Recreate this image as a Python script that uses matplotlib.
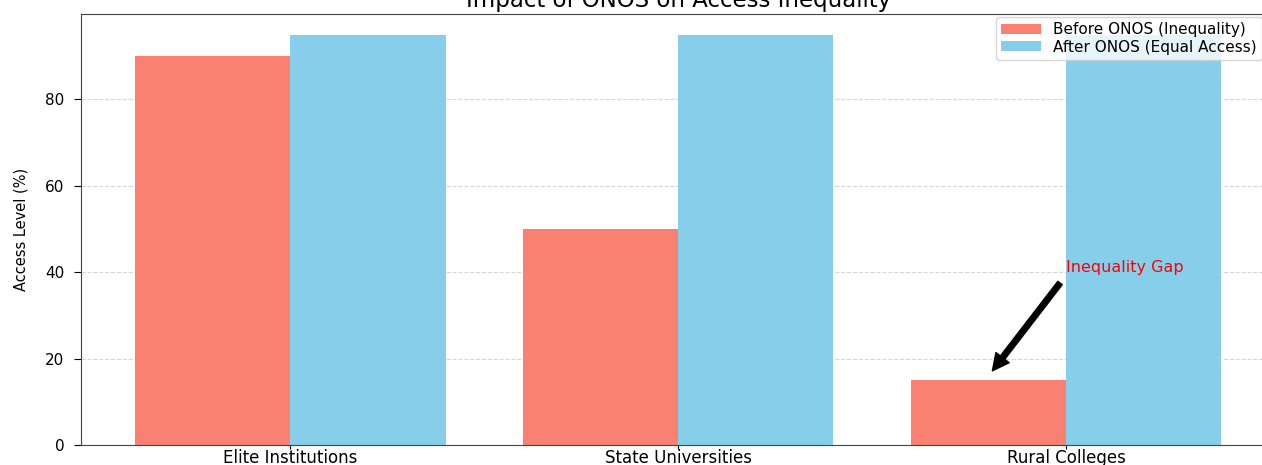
import numpy as np
import matplotlib
matplotlib.use("Agg")
import matplotlib.pyplot as plt

# datos del gráfico
categories = ["Elite Institutions", "State Universities", "Rural Colleges"]
before_onos = [90, 50, 15]
after_onos = [95, 95, 95]
yticks = [0, 20, 40, 60, 80]

W, H = 1262, 465
fig = plt.figure(figsize=(W / 100, H / 100), dpi=100)
# el eje se sale un poco por la derecha, como en la captura original
ax = fig.add_axes([81 / W, 20 / H, (1275.5 - 81) / W, (445 - 14) / H])

x = np.arange(len(categories))
width = 0.4
ax.bar(x - width / 2, before_onos, width, color="salmon", label="Before ONOS (Inequality)")
ax.bar(x + width / 2, after_onos, width, color="skyblue", label="After ONOS (Equal Access)")

ax.set_axisbelow(True)
ax.yaxis.grid(True, linestyle="--", color="#cccccc", alpha=0.8)
ax.set_yticks(yticks)
ax.tick_params(axis="y", labelsize=11, length=5, pad=7)
ax.tick_params(axis="x", length=3, pad=0)
ax.set_xticks(x)
ax.set_xticklabels(categories, fontsize=12)
ax.set_ylabel("Access Level (%)", fontsize=10.5)
ax.yaxis.set_label_coords(-0.044, 0.5)
ax.set_title("Impact of ONOS on Access Inequality", fontsize=16.5, pad=5)
for s in ax.spines.values():
    s.set_color("#444444")

# anotación de la brecha
ax.annotate("Inequality Gap", xy=(1.8, 16), xytext=(2.0, 40),
            color="red", fontsize=11.5,
            arrowprops=dict(facecolor="black", shrink=0.05))

ax.legend(loc="upper right", bbox_to_anchor=(1262 / W, 1 - 17 / H),
          bbox_transform=fig.transFigure, fontsize=11, labelspacing=0.15,
          handlelength=2.6, handleheight=0.6, borderpad=0.35, borderaxespad=0)

fig.savefig("out.png", dpi=100)
